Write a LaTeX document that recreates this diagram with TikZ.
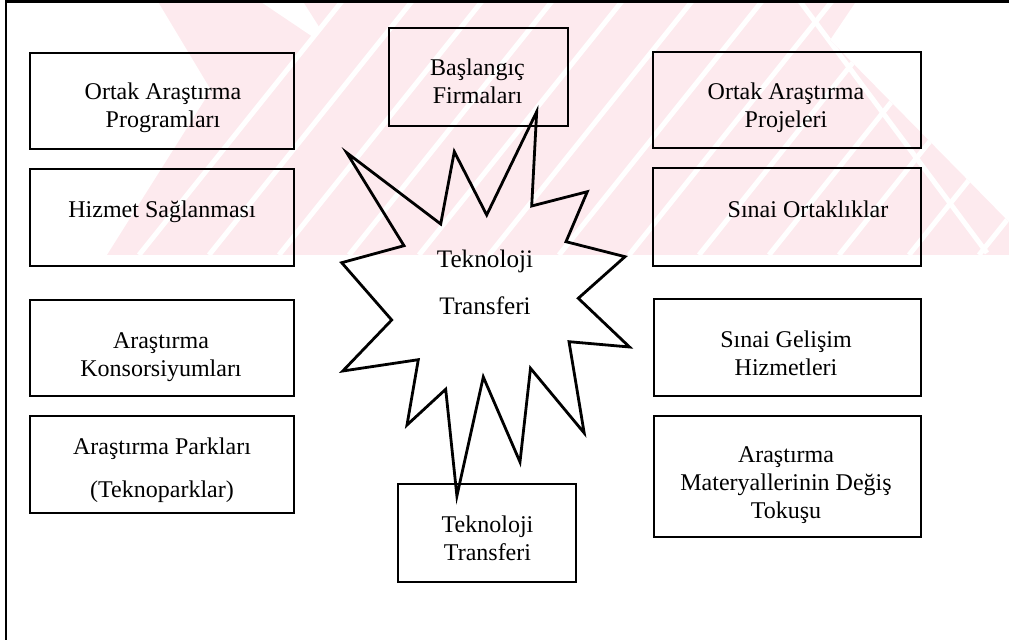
\documentclass[tikz,border=0pt]{standalone}
\usepackage{fontspec}
\setmainfont{Liberation Serif}
\definecolor{wmpink}{RGB}{253,234,238}
\begin{document}
\begin{tikzpicture}[x=0.5pt,y=-0.5pt,
  box/.style={draw, line width=1pt, inner sep=0pt},
  lbl/.style={align=center, anchor=base, inner sep=0pt, font=\fontsize{12}{14}\selectfont},
  burst/.style={draw, line width=1.4pt, line join=miter, miter limit=20}]
\useasboundingbox (0,0) rectangle (1009,640);

% faint pink background band with white diagonal stripes
\begin{scope}
  \clip (157,0) -- (857,0) -- (830,40) -- (1009,222) -- (1009,255)
        -- (107,255) -- (211,90) -- cycle;
  \fill[wmpink] (0,0) rectangle (1009,255);
  \foreach \c in {343,413,...,1253}
    \draw[white, line width=2.5pt] (\c,0) -- ++(-204,255);
  \fill[white] (258,0) -- (302,0) -- (321,30) -- (313,37) -- cycle;
  \draw[white, line width=2.5pt] (799,0) -- (987,253);
\end{scope}

% frame
\draw[line width=1pt] (6,640) -- (6,2);
\draw[line width=1.5pt] (5,2) -- (1009,2);

% left column
\node[box, minimum width=132pt, minimum height=48pt]   (bL1) at (162,101) {};
\node[box, minimum width=132pt, minimum height=48.5pt] (bL2) at (162,217.5) {};
\node[box, minimum width=132pt, minimum height=48pt]   (bL3) at (162,348) {};
\node[box, minimum width=132pt, minimum height=48.5pt] (bL4) at (162,464.5) {};
\node[lbl] (tL1) at (163,128) {Ortak Araştırma\\Programları};
\node[lbl] (tL2) at (162,218) {Hizmet Sağlanması};
\node[lbl] (tL3) at (161,377) {Araştırma\\Konsorsiyumları};
\node[lbl] (tL4) at (162,498) {Araştırma Parkları\\[7.5pt](Teknoparklar)};

% middle column
\node[box, minimum width=89.5pt, minimum height=49pt] (bT) at (478.5,77) {};
\node[box, minimum width=89pt, minimum height=49pt]   (bB) at (487,533) {};
\node[lbl] (tT) at (477.5,104) {Başlangıç\\Firmaları};
\node[lbl] (tB) at (487.5,561) {Teknoloji\\Transferi};

% right column
\node[box, minimum width=134pt, minimum height=48pt]   (bR1) at (787,100) {};
\node[box, minimum width=134pt, minimum height=49pt]   (bR2) at (787,217) {};
\node[box, minimum width=133.5pt, minimum height=48.5pt] (bR3) at (787.5,347.5) {};
\node[box, minimum width=133.5pt, minimum height=60.5pt] (bR4) at (787.5,476.5) {};
\node[lbl] (tR1) at (786,128) {Ortak Araştırma\\Projeleri};
\node[lbl] (tR2) at (808,218) {Sınai Ortaklıklar};
\node[lbl] (tR3) at (786,376) {Sınai Gelişim\\Hizmetleri};
\node[lbl] (tR4) at (786,519) {Araştırma\\Materyallerinin Değiş\\Tokuşu};

% central burst
\draw[burst] (536.7,111.7) -- (531.7,206) -- (587.3,191.7) -- (566,241.7)
  -- (625,256.7) -- (578.3,298.3) -- (629.5,347) -- (569,341.7)
  -- (584.2,433) -- (530.5,368.3) -- (520,462) -- (483.3,377)
  -- (456.9,496) -- (445.7,389.3) -- (407,425) -- (418.3,359.7)
  -- (342.8,371) -- (391.7,320) -- (341.7,262.7) -- (404,245.7)
  -- (346.7,152.7) -- (440.7,224) -- (454.3,151.7) -- (486.7,215) -- cycle;
\node[lbl, font=\fontsize{12.6}{14.7}\selectfont] (tC) at (485,315)
  {Teknoloji\\[8.8pt]Transferi};
\end{tikzpicture}
\end{document}
